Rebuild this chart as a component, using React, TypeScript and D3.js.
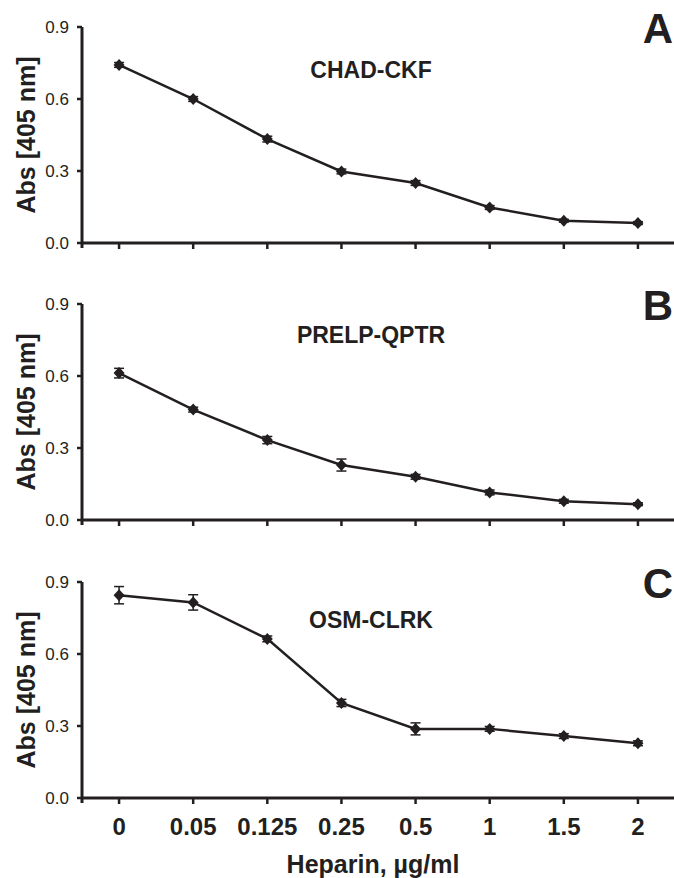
import { useEffect, useRef } from 'react'
import * as d3 from 'd3'

const doses = ['0', '0.05', '0.125', '0.25', '0.5', '1', '1.5', '2']
const yTicks = [0, 0.3, 0.6, 0.9]

const panelLetters = ['A', 'B', 'C']
const panelTitles = ['CHAD-CKF', 'PRELP-QPTR', 'OSM-CLRK']

const chadValues = [0.742, 0.6, 0.433, 0.298, 0.25, 0.148, 0.093, 0.083]
const chadErrors = [0.01, 0.01, 0.012, 0.01, 0.01, 0.008, 0.006, 0.006]

const prelpValues = [0.612, 0.46, 0.333, 0.229, 0.18, 0.115, 0.078, 0.066]
const prelpErrors = [0.02, 0.01, 0.015, 0.025, 0.01, 0.01, 0.008, 0.006]

const osmValues = [0.845, 0.815, 0.663, 0.396, 0.288, 0.288, 0.258, 0.228]
const osmErrors = [0.036, 0.032, 0.012, 0.015, 0.025, 0.01, 0.01, 0.01]

const seriesValues = [chadValues, prelpValues, osmValues]
const seriesErrors = [chadErrors, prelpErrors, osmErrors]

export default function App() {
  const svgRef = useRef<SVGSVGElement>(null)

  useEffect(() => {
    const width = 674, height = 878
    const ink = '#231f20'
    const font = '"Liberation Sans", Arial, sans-serif'
    const svg = d3.select(svgRef.current)
    svg.selectAll('*').remove()
    svg.attr('width', width).attr('height', height)

    const left = 82, right = 675
    const x = d3.scaleBand().domain(doses).range([left, right])
    const cx = (d: string) => (x(d) as number) + x.bandwidth() / 2

    // panel tops / bottoms in px (0.9 and 0.0)
    const tops = [27, 304, 582]
    const bottoms = [243, 520, 798]
    const titleDy = [51, 39, 46]

    const diamond = 'M0,-6L5.5,0L0,6L-5.5,0Z'

    tops.forEach((top, p) => {
      const bottom = bottoms[p]
      const y = d3.scaleLinear().domain([0, 0.9]).range([bottom, top])
      const g = svg.append('g')

      // y axis
      g.append('line')
        .attr('x1', left).attr('x2', left)
        .attr('y1', top).attr('y2', bottom + 5)
        .attr('stroke', ink).attr('stroke-width', 3)
      yTicks.forEach(t => {
        g.append('line')
          .attr('x1', left - 5).attr('x2', left)
          .attr('y1', y(t)).attr('y2', y(t))
          .attr('stroke', ink).attr('stroke-width', 2.5)
        g.append('text')
          .text(t.toFixed(1))
          .attr('x', left - 13).attr('y', y(t))
          .attr('dy', '0.35em')
          .attr('text-anchor', 'end')
          .attr('font-family', font).attr('font-size', '17px')
          .attr('fill', ink)
      })

      // x axis
      g.append('line')
        .attr('x1', left).attr('x2', right)
        .attr('y1', bottom).attr('y2', bottom)
        .attr('stroke', ink).attr('stroke-width', 3)
      doses.forEach(d => {
        g.append('line')
          .attr('x1', cx(d)).attr('x2', cx(d))
          .attr('y1', bottom).attr('y2', bottom + 6)
          .attr('stroke', ink).attr('stroke-width', 2.5)
      })

      // y label
      g.append('text')
        .text('Abs [405 nm]')
        .attr('transform', `translate(35,${(top + bottom) / 2}) rotate(-90)`)
        .attr('text-anchor', 'middle')
        .attr('font-family', font).attr('font-size', '25px').attr('font-weight', 'bold')
        .attr('fill', ink)

      // panel letter and title
      g.append('text')
        .text(panelLetters[p])
        .attr('x', 673).attr('y', top + 16)
        .attr('text-anchor', 'end')
        .attr('font-family', font).attr('font-size', '42px').attr('font-weight', 'bold')
        .attr('fill', ink)
      g.append('text')
        .text(panelTitles[p])
        .attr('x', 371).attr('y', top + titleDy[p])
        .attr('text-anchor', 'middle')
        .attr('font-family', font).attr('font-size', '23px').attr('font-weight', 'bold')
        .attr('fill', ink)

      const vals = seriesValues[p]
      const errs = seriesErrors[p]

      // error bars
      vals.forEach((v, i) => {
        const px = cx(doses[i])
        const e = errs[i]
        g.append('line')
          .attr('x1', px).attr('x2', px)
          .attr('y1', y(v - e)).attr('y2', y(v + e))
          .attr('stroke', ink).attr('stroke-width', 1.5)
        ;[v - e, v + e].forEach(b => {
          g.append('line')
            .attr('x1', px - 5).attr('x2', px + 5)
            .attr('y1', y(b)).attr('y2', y(b))
            .attr('stroke', ink).attr('stroke-width', 1.5)
        })
      })

      // line
      const line = d3.line<number>()
        .x((_, i) => cx(doses[i]))
        .y(v => y(v))
      g.append('path')
        .datum(vals)
        .attr('d', line)
        .attr('fill', 'none')
        .attr('stroke', ink)
        .attr('stroke-width', 2.5)

      // markers
      g.selectAll('.pt')
        .data(vals)
        .enter()
        .append('path')
        .attr('d', diamond)
        .attr('transform', (v, i) => `translate(${cx(doses[i])},${y(v)})`)
        .attr('fill', ink)
    })

    // x tick labels (bottom panel only)
    doses.forEach(d => {
      svg.append('text')
        .text(d)
        .attr('x', cx(d)).attr('y', 835)
        .attr('text-anchor', 'middle')
        .attr('font-family', font).attr('font-size', '24px').attr('font-weight', 'bold')
        .attr('fill', ink)
    })

    svg.append('text')
      .text('Heparin, µg/ml')
      .attr('x', 373).attr('y', 873)
      .attr('text-anchor', 'middle')
      .attr('font-family', font).attr('font-size', '25px').attr('font-weight', 'bold')
      .attr('fill', ink)
  }, [])

  return (
    <div style={{ position: 'absolute', top: 0, left: 0 }}>
      <svg ref={svgRef} style={{ display: 'block', background: '#fff' }} />
    </div>
  )
}
